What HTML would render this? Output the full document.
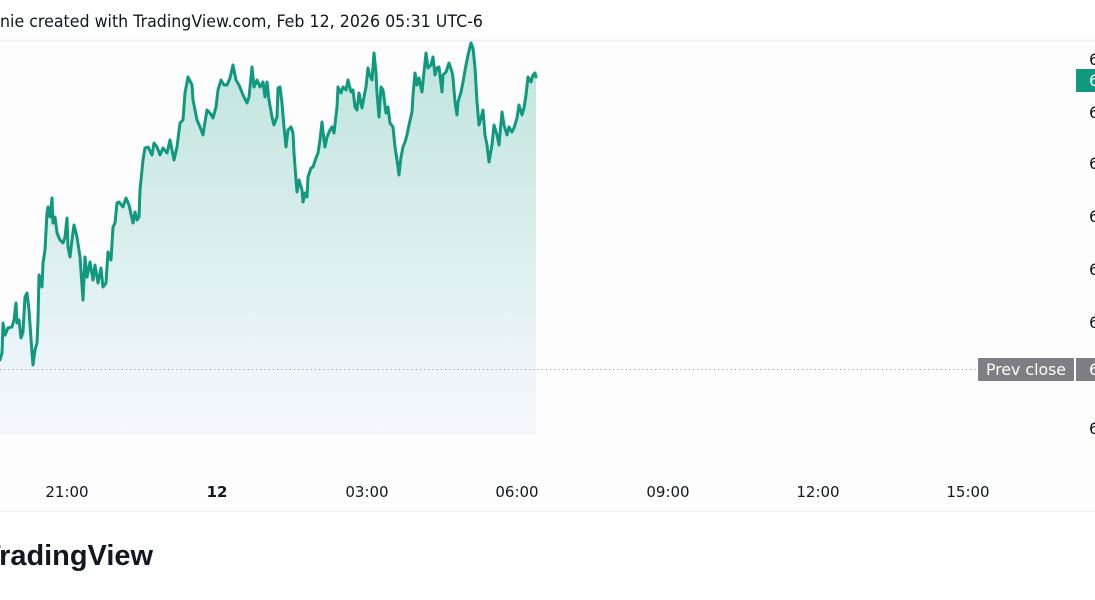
<!DOCTYPE html>
<html>
<head>
<meta charset="utf-8">
<style>
  html, body { margin:0; padding:0; background:#ffffff; }
  body { width:1095px; height:600px; overflow:hidden; }
  svg { display:block; }
  text { font-family: "DejaVu Sans", "Liberation Sans", sans-serif; }
</style>
</head>
<body>
<svg width="1095" height="600" viewBox="0 0 1095 600" xmlns="http://www.w3.org/2000/svg">
  <defs>
    <linearGradient id="fillg" x1="0" y1="45" x2="0" y2="435" gradientUnits="userSpaceOnUse">
      <stop offset="0" stop-color="#c0e4dd"/>
      <stop offset="0.5" stop-color="#daeeec"/>
      <stop offset="0.82" stop-color="#edf4f9"/>
      <stop offset="1" stop-color="#f5f7fc"/>
    </linearGradient>
  </defs>

  <rect x="0" y="0" width="1095" height="600" fill="#ffffff"/>
  <rect x="0" y="41" width="1095" height="470" fill="#fdfdfe"/>

  <!-- header -->
  <text x="0" y="27" font-size="17" fill="#131722" textLength="483" lengthAdjust="spacingAndGlyphs">nie created with TradingView.com, Feb 12, 2026 05:31 UTC-6</text>
  <line x1="0" y1="40.5" x2="1095" y2="40.5" stroke="#eeeef0" stroke-width="1.5"/>

  <!-- area fill -->
  <polygon fill="url(#fillg)" points="0,360 2,353 3,323 5,335 8,328 12,327 14,320 16,303 17,323 19,320 21,338 23,332 25,297 27,293 29,310 32,353 33,365 35,350 37,343 38,320 39,275 42,287 43,263 45,250 47,213 48,207 50,217 52,198 53,223 55,217 57,233 60,240 63,243 65,237 67,218 68,247 70,257 72,240 74,225 77,237 80,257 83,300 85,257 87,277 90,262 93,280 95,265 98,283 101,268 103,287 106,283 108,252 111,260 113,227 115,223 117,203 119,202 123,207 126,198 129,205 133,223 135,212 137,220 139,217 140,190 143,160 145,148 148,147 152,155 154,143 157,147 160,155 163,148 167,153 170,140 172,150 174,160 177,147 180,123 183,120 185,93 188,77 192,85 193,100 195,110 197,120 200,127 203,135 205,122 207,110 210,113 213,118 216,107 218,90 221,80 224,85 227,85 230,78 233,65 236,80 239,85 243,95 247,103 249,97 252,67 254,87 257,80 260,87 263,82 265,97 267,82 269,100 272,117 274,125 277,117 278,88 280,87 282,103 284,127 286,147 288,130 291,127 293,133 294,153 296,180 297,192 299,180 302,190 303,202 305,193 307,197 308,177 311,168 313,167 316,158 318,153 320,140 322,122 323,132 325,147 327,137 330,130 332,127 334,133 337,107 338,87 341,93 343,87 346,90 348,80 351,92 353,90 355,107 357,110 359,93 362,108 364,97 366,87 368,68 369,73 372,80 374,53 376,73 377,93 379,117 381,87 383,90 386,113 388,107 390,123 393,127 395,147 397,160 399,175 401,157 403,147 405,142 407,135 409,125 412,112 413,95 415,73 417,85 419,78 422,92 423,82 426,53 428,68 431,65 433,57 435,75 437,68 439,67 442,92 443,75 446,72 449,63 452,72 453,78 455,102 457,115 458,102 461,92 463,82 466,65 468,55 471,43 473,48 475,68 477,102 479,125 481,118 483,110 485,135 487,145 489,162 492,145 494,125 497,135 499,145 502,112 504,125 507,135 509,127 512,132 514,128 517,118 519,105 522,115 524,108 526,95 528,77 531,82 533,75 535,73 536,77 536,435 0,435"/>

  <!-- prev close dotted line -->
  <line x1="0" y1="369.5" x2="978" y2="369.5" stroke="#8a8d96" stroke-width="1" stroke-dasharray="1,3.2"/>

  <!-- price line -->
  <polyline fill="none" stroke="#11997f" stroke-width="3" stroke-linejoin="round" stroke-linecap="round" points="0,360 2,353 3,323 5,335 8,328 12,327 14,320 16,303 17,323 19,320 21,338 23,332 25,297 27,293 29,310 32,353 33,365 35,350 37,343 38,320 39,275 42,287 43,263 45,250 47,213 48,207 50,217 52,198 53,223 55,217 57,233 60,240 63,243 65,237 67,218 68,247 70,257 72,240 74,225 77,237 80,257 83,300 85,257 87,277 90,262 93,280 95,265 98,283 101,268 103,287 106,283 108,252 111,260 113,227 115,223 117,203 119,202 123,207 126,198 129,205 133,223 135,212 137,220 139,217 140,190 143,160 145,148 148,147 152,155 154,143 157,147 160,155 163,148 167,153 170,140 172,150 174,160 177,147 180,123 183,120 185,93 188,77 192,85 193,100 195,110 197,120 200,127 203,135 205,122 207,110 210,113 213,118 216,107 218,90 221,80 224,85 227,85 230,78 233,65 236,80 239,85 243,95 247,103 249,97 252,67 254,87 257,80 260,87 263,82 265,97 267,82 269,100 272,117 274,125 277,117 278,88 280,87 282,103 284,127 286,147 288,130 291,127 293,133 294,153 296,180 297,192 299,180 302,190 303,202 305,193 307,197 308,177 311,168 313,167 316,158 318,153 320,140 322,122 323,132 325,147 327,137 330,130 332,127 334,133 337,107 338,87 341,93 343,87 346,90 348,80 351,92 353,90 355,107 357,110 359,93 362,108 364,97 366,87 368,68 369,73 372,80 374,53 376,73 377,93 379,117 381,87 383,90 386,113 388,107 390,123 393,127 395,147 397,160 399,175 401,157 403,147 405,142 407,135 409,125 412,112 413,95 415,73 417,85 419,78 422,92 423,82 426,53 428,68 431,65 433,57 435,75 437,68 439,67 442,92 443,75 446,72 449,63 452,72 453,78 455,102 457,115 458,102 461,92 463,82 466,65 468,55 471,43 473,48 475,68 477,102 479,125 481,118 483,110 485,135 487,145 489,162 492,145 494,125 497,135 499,145 502,112 504,125 507,135 509,127 512,132 514,128 517,118 519,105 522,115 524,108 526,95 528,77 531,82 533,75 535,73 536,77"/>

  <!-- price axis labels (clipped) -->
  <g font-size="16" fill="#131722">
    <text x="1089" y="65">6</text>
    <text x="1089" y="118">6</text>
    <text x="1089" y="169">6</text>
    <text x="1089" y="222">6</text>
    <text x="1089" y="275">6</text>
    <text x="1089" y="328">6</text>
    <text x="1089" y="434">6</text>
  </g>

  <!-- last price label -->
  <rect x="1076" y="69" width="19" height="23" fill="#0f9a80"/>
  <text x="1089" y="86" font-size="16" fill="#ffffff">6</text>

  <!-- prev close labels -->
  <rect x="978" y="358" width="96" height="23" rx="1" fill="#7e7e84"/>
  <text x="986" y="375" font-size="16" fill="#ffffff" textLength="80" lengthAdjust="spacingAndGlyphs">Prev close</text>
  <rect x="1076" y="358" width="19" height="23" fill="#7e7e84"/>
  <text x="1089" y="375" font-size="16" fill="#ffffff">6</text>

  <!-- time axis -->
  <g font-size="15" fill="#131722" text-anchor="middle">
    <text x="67" y="497">21:00</text>
    <text x="217" y="497" font-weight="bold">12</text>
    <text x="367" y="497">03:00</text>
    <text x="517" y="497">06:00</text>
    <text x="668" y="497">09:00</text>
    <text x="818" y="497">12:00</text>
    <text x="968" y="497">15:00</text>
  </g>
  <line x1="0" y1="511.5" x2="1095" y2="511.5" stroke="#f0f0f3" stroke-width="1.5"/>

  <!-- logo text -->
  <text x="-17" y="565" font-size="29" font-weight="bold" fill="#131722" textLength="170" lengthAdjust="spacingAndGlyphs" style="font-family:'Liberation Sans', sans-serif;">TradingView</text>
</svg>
</body>
</html>
